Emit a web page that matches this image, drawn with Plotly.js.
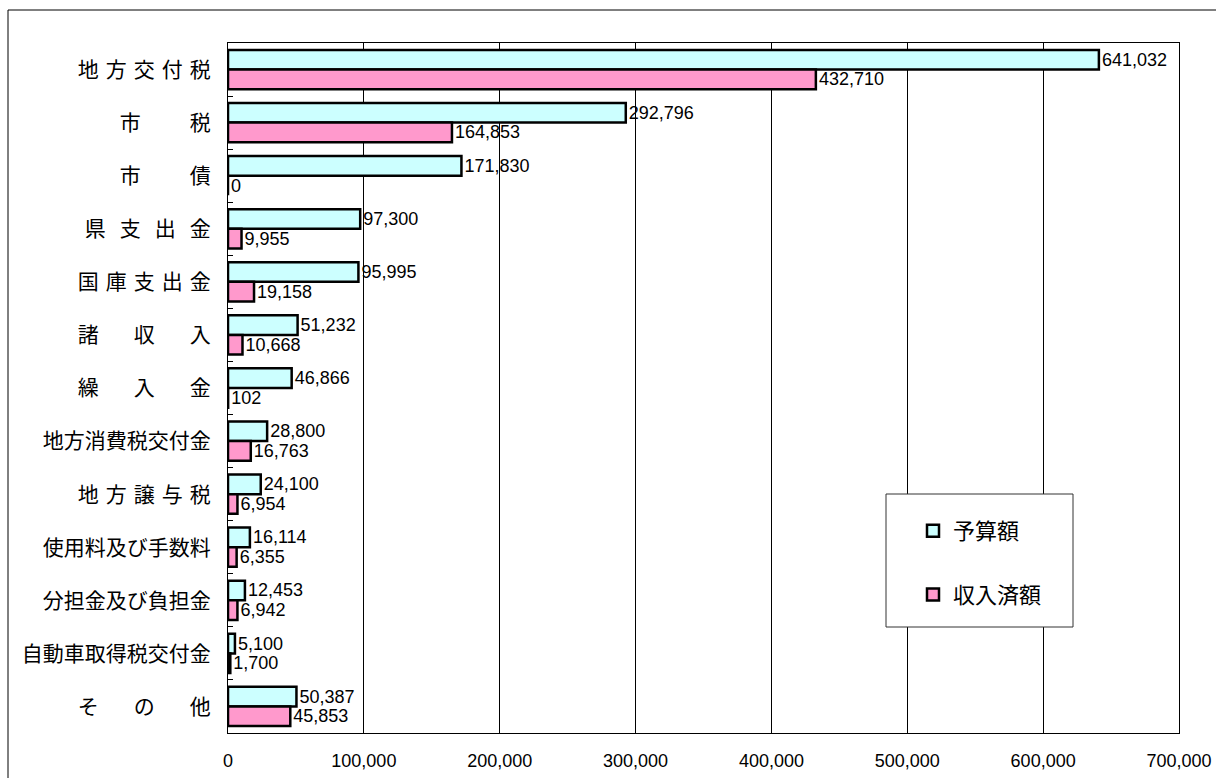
<!DOCTYPE html>
<html><head><meta charset="utf-8">
<script src="https://cdn.plot.ly/plotly-3.0.1.min.js"></script>
<style>body{margin:0;background:#fff}#chart{width:1216px;height:778px}</style>
</head><body><div id="chart"></div>
<script>
const categories = ["地\u2004方\u2004交\u2004付\u2004税","市　　\u2004税","市　　\u2004債","県\u2004\u2004支\u2004\u2004出\u2004\u2004金","国\u2004庫\u2004支\u2004出\u2004金","諸　\u2004\u2004収　\u2004\u2004入","繰　\u2004\u2004入　\u2004\u2004金","地方消費税交付金","地\u2004方\u2004譲\u2004与\u2004税","使用料及び手数料","分担金及び負担金","自動車取得税交付金","そ　\u2004\u2004の　\u2004\u2004他"];
const budget = [641032, 292796, 171830, 97300, 95995, 51232, 46866, 28800, 24100, 16114, 12453, 5100, 50387];
const received = [432710, 164853, 0, 9955, 19158, 10668, 102, 16763, 6954, 6355, 6942, 1700, 45853];
const seriesNames = ["予算額", "収入済額"];
const xTicks = [0, 100000, 200000, 300000, 400000, 500000, 600000, 700000];

const common = {
  type: 'bar', orientation: 'h', y: categories,
  textposition: 'outside', texttemplate: '%{x:,}', cliponaxis: false, constraintext: 'none',
  textfont: {family: 'Liberation Sans, Arial', size: 18, color: '#000'},
  hoverinfo: 'skip'
};
const data = [
  Object.assign({}, common, {name: seriesNames[0], x: budget, legendgroup: 'a',
    marker: {color: '#CCFFFF', line: {color: '#000', width: 2.5}}}),
  Object.assign({}, common, {name: seriesNames[1], x: received, legendgroup: 'b',
    marker: {color: '#FF99CC', line: {color: '#000', width: 2.5}}})
];
const W = 951, H = 690;
const layout = {
  width: 1216, height: 778,
  margin: {l: 228, r: 37, t: 43, b: 45},
  paper_bgcolor: '#fff', plot_bgcolor: '#fff',
  barmode: 'group', bargap: 0.26, bargroupgap: 0,
  showlegend: true,
  legend: {x: (913-228)/W, y: (733-510)/H, xanchor: 'left', yanchor: 'top',
    bgcolor: 'rgba(0,0,0,0)', borderwidth: 0, traceorder: 'grouped', tracegroupgap: 32,
    font: {family: 'Noto Sans CJK JP', size: 22, color: '#000'}},
  xaxis: {range: [0, 700000], tickvals: xTicks, ticktext: xTicks.map(v => v.toLocaleString('en-US')),
    showgrid: true, gridcolor: '#000', gridwidth: 1, zeroline: false,
    showline: true, linecolor: '#000', linewidth: 1, mirror: true,
    ticks: 'outside', ticklen: 11, tickcolor: 'rgba(0,0,0,0)',
    tickfont: {family: 'Liberation Sans, Arial', size: 18, color: '#000'}, fixedrange: true},
  yaxis: {type: 'category', autorange: 'reversed', showgrid: false, zeroline: false,
    showline: true, linecolor: '#000', linewidth: 1, mirror: true,
    ticks: 'inside', tickson: 'boundaries', ticklen: 5, tickcolor: '#000',
    ticklabelstandoff: 12,
    tickfont: {family: 'Noto Sans CJK JP', size: 21, color: '#000'}, fixedrange: true},
  shapes: [
    {type: 'rect', xref: 'paper', yref: 'paper', x0: (8-228)/W, x1: (1240-228)/W, y0: (733-800)/H, y1: (733-10)/H,
      line: {color: '#000', width: 1}, fillcolor: 'rgba(0,0,0,0)', layer: 'below'},
    {type: 'rect', xref: 'paper', yref: 'paper', x0: (886-228)/W, x1: (1073-228)/W, y0: (733-627)/H, y1: (733-494)/H,
      line: {color: '#333', width: 1}, fillcolor: '#fff', layer: 'above'}
  ]
};
Plotly.newPlot('chart', data, layout, {displayModeBar: false, staticPlot: true});
</script></body></html>
